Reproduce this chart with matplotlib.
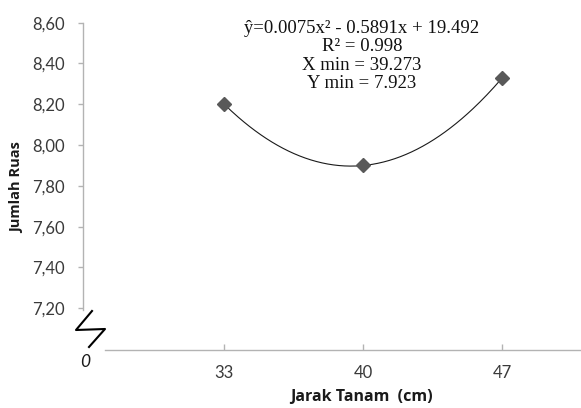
import numpy as np
import matplotlib
matplotlib.use("Agg")
import matplotlib.pyplot as plt
from matplotlib.lines import Line2D

# data
x_vals = [33, 40, 47]
y_vals = [8.20, 7.90, 8.33]
y_ticks = [7.20, 7.40, 7.60, 7.80, 8.00, 8.20, 8.40, 8.60]
y_tick_labels = ["7,20", "7,40", "7,60", "7,80", "8,00", "8,20", "8,40", "8,60"]
x_tick_labels = ["33", "40", "47"]
eq_lines = ["ŷ=0.0075x² - 0.5891x + 19.492", "R² = 0.998", "X min = 39.273", "Y min = 7.923"]

W, H = 581, 408
fig = plt.figure(figsize=(W / 100, H / 100), dpi=100)
SANS = "Lato"
TITLE = "Open Sans"

ax_left, ax_right = 83.3, 581
ax_top, ax_bot = 22.7, 350
ax = fig.add_axes([ax_left / W, 1 - ax_bot / H, (ax_right - ax_left) / W, (ax_bot - ax_top) / H])

ppu_y = (308.3 - 22.7) / 1.4
ppu_x = (502.3 - 224.3) / 14
ax.set_ylim(8.60 - (ax_bot - ax_top) / ppu_y, 8.60)
ax.set_xlim(33 - (224.3 - ax_left) / ppu_x, 47 + (ax_right - 502.3) / ppu_x)

# trendline (quadratic fit)
coef = np.polyfit(x_vals, y_vals, 2)
xs = np.linspace(min(x_vals), max(x_vals), 200)
ax.plot(xs, np.polyval(coef, xs), color="#1a1a1a", lw=0.8, zorder=2)
ax.plot(x_vals, y_vals, linestyle="none", marker="D", markersize=7.3,
        color="#595959", markeredgecolor="#595959", zorder=3)

for s in ["top", "right"]:
    ax.spines[s].set_visible(False)
spine_col = "#b3b3b3"
ax.spines["left"].set_color(spine_col)
ax.spines["bottom"].set_color(spine_col)
ax.spines["left"].set_linewidth(1.0)
ax.spines["bottom"].set_linewidth(1.0)
ax.spines["left"].set_bounds(7.19, 8.60)
ax.spines["bottom"].set_bounds(33 - (224.3 - 105) / ppu_x, ax.get_xlim()[1])

ax.set_yticks(y_ticks)
ax.set_yticklabels(y_tick_labels)
ax.set_xticks(x_vals)
ax.set_xticklabels(x_tick_labels)
ax.tick_params(axis="y", direction="out", length=3.5, width=1, color=spine_col, pad=10,
               labelsize=12, labelcolor="#3a3a3a")
ax.tick_params(axis="x", direction="in", length=4, width=1, color=spine_col, pad=10.5,
               labelsize=12, labelcolor="#3a3a3a")
for lab in ax.get_xticklabels() + ax.get_yticklabels():
    lab.set_fontfamily(SANS)

# axis titles
fig.text(17 / W, 1 - 188 / H, "Jumlah Ruas", rotation=90, ha="center", va="center",
         fontsize=10.5, fontweight="bold", family=TITLE, color="#1a1a1a")
fig.text(361 / W, 1 - 397 / H, "Jarak Tanam  (cm)", ha="center", va="center",
         fontsize=11.5, fontweight="bold", family=TITLE, color="#1a1a1a")

# equation block, one text per line
eq_y = [28.3, 46.7, 65.0, 83.3]
for line, yy in zip(eq_lines, eq_y):
    fig.text(362 / W, 1 - yy / H, line, ha="center", va="center",
             fontsize=13.5, family="Liberation Serif", color="#111111")

# axis break symbol and the "0"
pts_x = [92, 76, 105, 89]
pts_y = [311, 330, 329, 347]
fig.add_artist(Line2D([p / W for p in pts_x], [1 - p / H for p in pts_y],
                      transform=fig.transFigure, color="black", lw=1.5))
fig.text(85 / W, 1 - 362 / H, "0", ha="center", va="center", fontsize=12.5,
         style="italic", family=SANS, color="#1a1a1a")

fig.savefig("out.png", dpi=100)
